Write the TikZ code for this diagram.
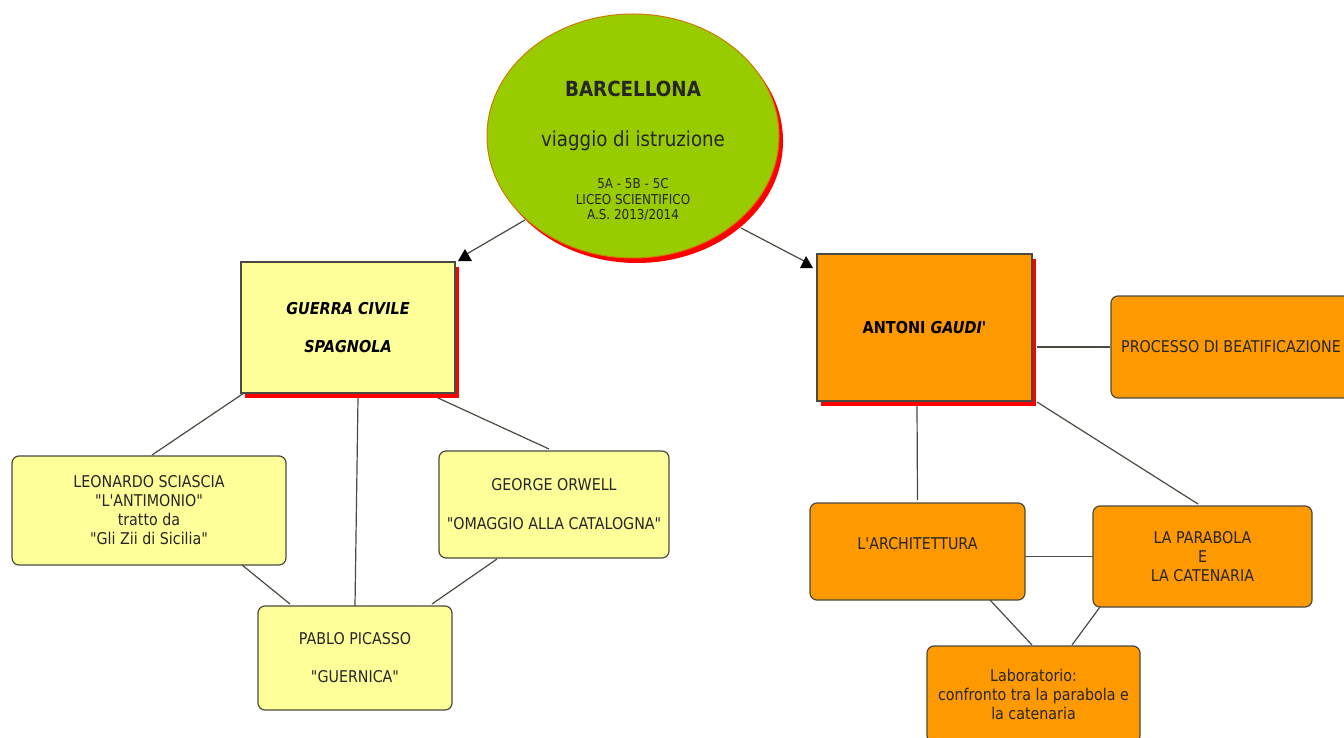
\documentclass[tikz,border=0pt]{standalone}
\usepackage{fontspec}
\setmainfont{DejaVu Sans}[FakeStretch=0.88,Ligatures=TeXOff]
\usetikzlibrary{calc,shapes.geometric,shadows}
\definecolor{boxyellow}{HTML}{FFFF99}
\definecolor{boxorange}{HTML}{FF9900}
\definecolor{boxgreen}{HTML}{99CC00}
\definecolor{edgegray}{HTML}{4A4A40}
\newcommand{\tsize}{\fontsize{16.2}{19}\selectfont}
\newcommand{\smalltxt}[1]{{\fontsize{13.6}{15.5}\selectfont #1}}
\tikzset{
  base/.style={draw=edgegray,line width=1.2pt,inner sep=0pt,outer sep=0pt,align=center,font=\tsize,text=black!85},
  redshadow/.style={general shadow={fill=red,draw=none,shadow xshift=4pt,shadow yshift=-5pt}},
  yellowbox/.style={base,fill=boxyellow,rounded corners=7pt},
  orangebox/.style={base,fill=boxorange,rounded corners=7pt},
  mainbox/.style={base,redshadow,font=\fontsize{16.4}{19}\selectfont\bfseries,text=black},
  link/.style={draw=edgegray,line width=1.2pt},
  tiphead/.style={fill=black}
}
\begin{document}
\begin{tikzpicture}[x=1pt,y=-1pt]
\useasboundingbox (0,0) rectangle (1344,738);
% main concept
\node[base,redshadow,ellipse,draw=boxorange!80!black,line width=1pt,fill=boxgreen,minimum width=292pt,minimum height=244pt,font=\fontsize{15.5}{15.5}\selectfont,text height=169pt] (bar) at (633,136)
 {{\fontsize{20.8}{19}\selectfont\bfseries BARCELLONA}\\[33pt]
  {\fontsize{20.7}{20}\selectfont viaggio di istruzione}\\[27pt]
  \smalltxt{5A - 5B - 5C}\\ \smalltxt{LICEO SCIENTIFICO}\\ \smalltxt{A.S. 2013/2014}};
% left branch
\node[mainbox,fill=boxyellow,minimum width=214pt,minimum height=131pt] (guerra) at (348,327.5)
 {\textit{GUERRA CIVILE}\\[19pt]\textit{SPAGNOLA}};
\node[yellowbox,minimum width=274pt,minimum height=109pt] (leonardo) at (149,510.5)
 {LEONARDO SCIASCIA\\ "L'ANTIMONIO"\\ tratto da\\ "Gli Zii di Sicilia"};
\node[yellowbox,minimum width=230pt,minimum height=107pt] (orwell) at (554,504.5)
 {GEORGE ORWELL\\[20pt] "OMAGGIO ALLA CATALOGNA"};
\node[yellowbox,minimum width=194pt,minimum height=104pt] (picasso) at (355,658)
 {PABLO PICASSO\\[19pt] "GUERNICA"};
% right branch
\node[mainbox,fill=boxorange,minimum width=215pt,minimum height=147pt] (gaudi) at (924.5,327.5)
 {ANTONI \textit{GAUDI'}};
\node[orangebox,minimum width=240pt,minimum height=102pt] (proc) at (1231,347)
 {PROCESSO DI BEATIFICAZIONE};
\node[orangebox,minimum width=215pt,minimum height=97pt,text depth=16pt] (arch) at (917.5,551.5)
 {L'ARCHITETTURA};
\node[orangebox,minimum width=219pt,minimum height=101pt] (parabola) at (1202.5,556.5)
 {LA PARABOLA\\ E\\ LA CATENARIA};
\node[orangebox,minimum width=213pt,minimum height=97pt] (lab) at (1033.5,694.5)
 {Laboratorio:\\ confronto tra la parabola e\\ la catenaria};
% arrow ends
\coordinate (tipL) at ($(guerra.north east)+(10,-7)$);
\coordinate (tipR) at ($(gaudi.north west)+(-11,8)$);
\draw[link] ($(bar.center)+(-108,84)$) -- (tipL);
\draw[link] ($(bar.center)+(108,92)$) -- (tipR);
\fill[tiphead] (tipL) ++(-7,6) -- ++(14,0) -- ++(-7,-12) -- cycle;
\fill[tiphead] (tipR) ++(-6,6) -- ++(13,0) -- ++(-7,-12) -- cycle;
% connectors
\draw[link] ($(guerra.south west)+(3,0)$) -- ($(leonardo.north)+(3,-1)$);
\draw[link] ($(guerra.south)+(10,5)$) -- ($(picasso.north)+(0,0)$);
\draw[link] ($(guerra.south)+(90,5)$) -- ($(orwell.north)+(-5,-2)$);
\draw[link] ($(leonardo.south)+(93,0)$) -- ($(picasso.north west)+(32,-2)$);
\draw[link] ($(orwell.south)+(-57,1)$) -- ($(picasso.north east)+(-20,-2)$);
\draw[link] ($(gaudi.east)+(5,19.5)$) -- ($(proc.west)+(-1,0)$);
\draw[link] ($(gaudi.south)+(-7.5,5)$) -- ($(arch.north)+(0,-3)$);
\draw[link] ($(gaudi.south east)+(5,1)$) -- ($(parabola.north)+(-4.5,-2)$);
\draw[link] ($(arch.east)+(0,5)$) -- ($(parabola.west)+(0,0)$);
\draw[link] ($(arch.south)+(72.5,0)$) -- ($(lab.north)+(-1.5,-1)$);
\draw[link] ($(parabola.south west)+(7,0)$) -- ($(lab.north)+(38.5,-1)$);
\end{tikzpicture}
\end{document}
